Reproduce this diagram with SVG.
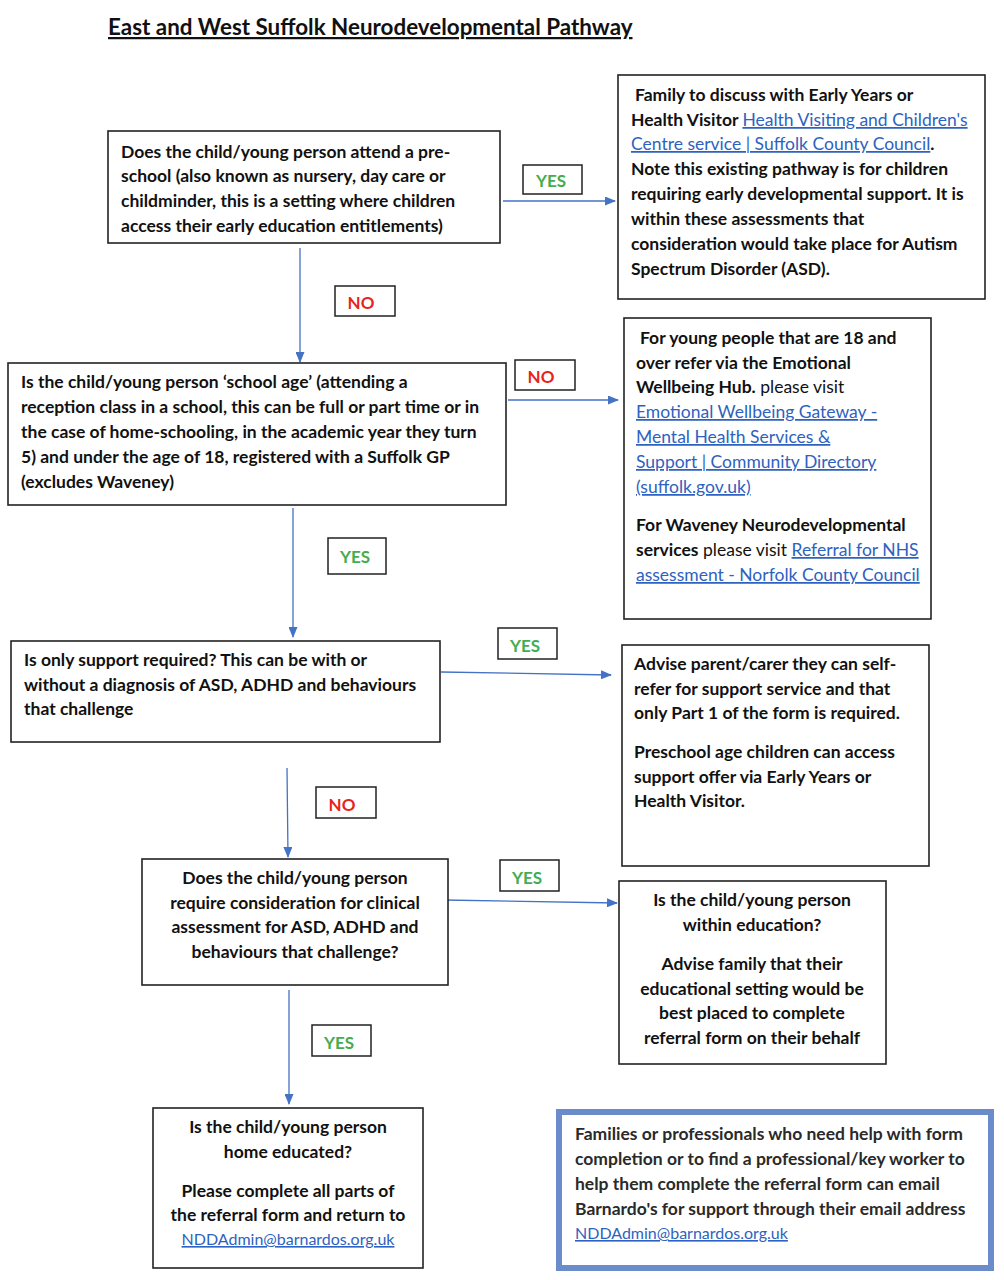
<svg xmlns="http://www.w3.org/2000/svg" width="1004" height="1280" viewBox="0 0 1004 1280">
<defs>
<marker id="ah" markerWidth="11" markerHeight="9" refX="10" refY="4.5" orient="auto" markerUnits="userSpaceOnUse">
<path d="M0,0 L11,4.5 L0,9 Z" fill="#4472c4"/>
</marker>
<style>
.box{fill:#fff;stroke:#222;stroke-width:1.6}
.lbl{fill:#fff;stroke:#222;stroke-width:1.5}
.t{font-family:Lato,"Open Sans","Liberation Sans",sans-serif;font-size:17.5px;font-weight:bold;fill:#111}
.c{text-anchor:middle}
.r{font-weight:normal}
.lk{fill:#2e62c0;font-weight:normal;text-decoration:underline}
.em{font-size:16px}
.yes{font-family:Lato,"Open Sans","Liberation Sans",sans-serif;font-size:17px;font-weight:bold;fill:#44ad4f;text-anchor:middle}
.no{font-family:Lato,"Open Sans","Liberation Sans",sans-serif;font-size:17px;font-weight:bold;fill:#e8231a;text-anchor:middle}
.con{stroke:#4472c4;stroke-width:1.3;fill:none;marker-end:url(#ah)}
</style>
</defs>
<rect width="1004" height="1280" fill="#fff"/>
<text x="108" y="35" style="font-family:Lato,'Open Sans','Liberation Sans',sans-serif;font-size:22.4px;font-weight:bold;text-decoration:underline;fill:#111">East and West Suffolk Neurodevelopmental Pathway</text>

<g id="connectors">
<line class="con" x1="503" y1="201" x2="615" y2="201"/>
<line class="con" x1="300" y1="248" x2="300" y2="362"/>
<line class="con" x1="508" y1="400" x2="618" y2="400"/>
<line class="con" x1="293" y1="508" x2="293" y2="637"/>
<line class="con" x1="441" y1="672" x2="611" y2="675"/>
<line class="con" x1="287" y1="768" x2="288" y2="857"/>
<line class="con" x1="444" y1="900" x2="617" y2="903"/>
<line class="con" x1="289" y1="990" x2="289" y2="1104"/>
</g>

<g id="labels">
<g id="lbl-yes1"><rect class="lbl" x="523" y="165" width="59" height="29"/><text class="yes" x="551" y="187">YES</text></g>
<g id="lbl-no1"><rect class="lbl" x="335" y="286" width="60" height="30"/><text class="no" x="361" y="309">NO</text></g>
<g id="lbl-no2"><rect class="lbl" x="515" y="360" width="60" height="30"/><text class="no" x="541" y="383">NO</text></g>
<g id="lbl-yes2"><rect class="lbl" x="328" y="538" width="58" height="36"/><text class="yes" x="355" y="563">YES</text></g>
<g id="lbl-yes3"><rect class="lbl" x="498" y="628" width="59" height="31"/><text class="yes" x="525" y="652">YES</text></g>
<g id="lbl-no3"><rect class="lbl" x="316" y="787" width="60" height="31"/><text class="no" x="342" y="811">NO</text></g>
<g id="lbl-yes4"><rect class="lbl" x="500" y="860" width="59" height="31"/><text class="yes" x="527" y="884">YES</text></g>
<g id="lbl-yes5"><rect class="lbl" x="312" y="1025" width="59" height="31"/><text class="yes" x="339" y="1049">YES</text></g>
</g>

<g id="q1">
<rect class="box" x="108" y="131" width="392" height="112"/>
<text class="t" x="121" y="158">Does the child/young person attend a pre-</text>
<text class="t" x="121" y="182">school (also known as nursery, day care or</text>
<text class="t" x="121" y="207">childminder, this is a setting where children</text>
<text class="t" x="121" y="232">access their early education entitlements)</text>
</g>

<g id="a1">
<rect class="box" x="618" y="75" width="367" height="224"/>
<text class="t" x="635" y="101">Family to discuss with Early Years or</text>
<text class="t" x="631" y="126">Health Visitor <tspan class="lk">Health Visiting and Children's</tspan></text>
<text class="t" x="631" y="150"><tspan class="lk">Centre service | Suffolk County Council</tspan>.</text>
<text class="t" x="631" y="175">Note this existing pathway is for children</text>
<text class="t" x="631" y="200">requiring early developmental support. It is</text>
<text class="t" x="631" y="225">within these assessments that</text>
<text class="t" x="631" y="250">consideration would take place for Autism</text>
<text class="t" x="631" y="275">Spectrum Disorder (ASD).</text>
</g>

<g id="q2">
<rect class="box" x="8" y="363" width="498" height="142"/>
<text class="t" x="21" y="388">Is the child/young person ‘school age’ (attending a</text>
<text class="t" x="21" y="413">reception class in a school, this can be full or part time or in</text>
<text class="t" x="21" y="438">the case of home-schooling, in the academic year they turn</text>
<text class="t" x="21" y="463">5) and under the age of 18, registered with a Suffolk GP</text>
<text class="t" x="21" y="488">(excludes Waveney)</text>
</g>

<g id="a2">
<rect class="box" x="624" y="318" width="307" height="301"/>
<text class="t" x="640" y="344">For young people that are 18 and</text>
<text class="t" x="636" y="369">over refer via the Emotional</text>
<text class="t" x="636" y="393">Wellbeing Hub.<tspan class="r"> please visit</tspan></text>
<text class="t" x="636" y="418"><tspan class="lk">Emotional Wellbeing Gateway -</tspan></text>
<text class="t" x="636" y="443"><tspan class="lk">Mental Health Services &amp;</tspan></text>
<text class="t" x="636" y="468"><tspan class="lk">Support | Community Directory</tspan></text>
<text class="t" x="636" y="493"><tspan class="lk">(suffolk.gov.uk)</tspan></text>
<text class="t" x="636" y="531">For Waveney Neurodevelopmental</text>
<text class="t" x="636" y="556">services<tspan class="r"> please visit </tspan><tspan class="lk">Referral for NHS</tspan></text>
<text class="t" x="636" y="581"><tspan class="lk">assessment - Norfolk County Council</tspan></text>
</g>

<g id="q3">
<rect class="box" x="11" y="641" width="429" height="101"/>
<text class="t" x="24" y="666">Is only support required? This can be with or</text>
<text class="t" x="24" y="691">without a diagnosis of ASD, ADHD and behaviours</text>
<text class="t" x="24" y="715">that challenge</text>
</g>

<g id="a3">
<rect class="box" x="622" y="645" width="307" height="221"/>
<text class="t" x="634" y="670">Advise parent/carer they can self-</text>
<text class="t" x="634" y="695">refer for support service and that</text>
<text class="t" x="634" y="719">only Part 1 of the form is required.</text>
<text class="t" x="634" y="758">Preschool age children can access</text>
<text class="t" x="634" y="783">support offer via Early Years or</text>
<text class="t" x="634" y="807">Health Visitor.</text>
</g>

<g id="q4">
<rect class="box" x="142" y="859" width="306" height="126"/>
<text class="t c" x="295" y="884">Does the child/young person</text>
<text class="t c" x="295" y="909">require consideration for clinical</text>
<text class="t c" x="295" y="933">assessment for ASD, ADHD and</text>
<text class="t c" x="295" y="958">behaviours that challenge?</text>
</g>

<g id="a4">
<rect class="box" x="619" y="881" width="267" height="183"/>
<text class="t c" x="752" y="906">Is the child/young person</text>
<text class="t c" x="752" y="931">within education?</text>
<text class="t c" x="752" y="970">Advise family that their</text>
<text class="t c" x="752" y="995">educational setting would be</text>
<text class="t c" x="752" y="1019">best placed to complete</text>
<text class="t c" x="752" y="1044">referral form on their behalf</text>
</g>

<g id="q5">
<rect class="box" x="153" y="1108" width="270" height="160"/>
<text class="t c" x="288" y="1133">Is the child/young person</text>
<text class="t c" x="288" y="1158">home educated?</text>
<text class="t c" x="288" y="1197">Please complete all parts of</text>
<text class="t c" x="288" y="1221">the referral form and return to</text>
<text class="t c em" x="288" y="1245"><tspan class="lk">NDDAdmin@barnardos.org.uk</tspan></text>
</g>

<g id="help">
<rect x="559" y="1112" width="432" height="156" fill="#fff" stroke="#6a8cca" stroke-width="6"/>
<text class="t" x="575" y="1140" style="fill:#2a2a2a">Families or professionals who need help with form</text>
<text class="t" x="575" y="1165" style="fill:#2a2a2a">completion or to find a professional/key worker to</text>
<text class="t" x="575" y="1190" style="fill:#2a2a2a">help them complete the referral form can email</text>
<text class="t" x="575" y="1215" style="fill:#2a2a2a">Barnardo's for support through their email address</text>
<text class="t em" x="575" y="1239"><tspan class="lk">NDDAdmin@barnardos.org.uk</tspan></text>
</g>
</svg>
